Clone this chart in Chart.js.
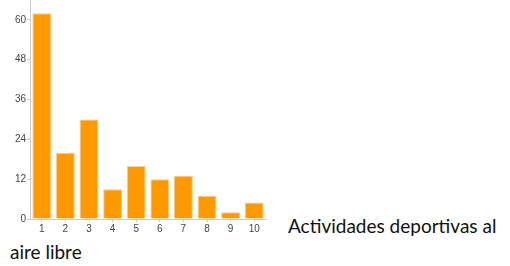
<!DOCTYPE html>
<html>
<head>
<meta charset="utf-8">
<script src="https://cdn.jsdelivr.net/npm/chart.js@4"></script>
<style>
  html, body { margin: 0; padding: 0; background: #fff; }
  body { width: 510px; height: 266px; position: relative; overflow: hidden; }
  #wrap { position: absolute; left: 0; top: 0; width: 270px; height: 234px; }
  .txt { position: absolute; font-family: Lato, "Open Sans", sans-serif; font-size: 19px; color: #111; white-space: nowrap; }
</style>
</head>
<body>
<div id="wrap"><canvas id="canvas"></canvas></div>
<div class="txt" style="left:288px; top:214px;">Actividades deportivas al</div>
<div class="txt" style="left:10px; top:240px;">aire libre</div>
<script>
var labels = ["1", "2", "3", "4", "5", "6", "7", "8", "9", "10"];
var counts = [62, 20, 30, 9, 16, 12, 13, 7, 2, 5];
var yTicks = [0, 12, 24, 36, 48, 60];

var tickFont = { family: "'Liberation Sans', Arial, sans-serif", size: 10 };

var config = {
  type: "bar",
  data: {
    labels: labels,
    datasets: [
      {
        data: counts,
        backgroundColor: "#ff9900",
        borderColor: "#ffcc88",
        borderWidth: 1,
        barPercentage: 0.8,
        categoryPercentage: 1
      }
    ]
  },
  options: {
    responsive: true,
    maintainAspectRatio: false,
    animation: false,
    layout: { padding: { left: 0, right: 4, top: 0, bottom: 0 } },
    plugins: {
      legend: { display: false },
      tooltip: { enabled: false }
    },
    scales: {
      x: {
        grid: { offset: false, drawOnChartArea: false, color: "#cccccc", tickLength: 3 },
        border: { color: "#cccccc" },
        ticks: { color: "#444", font: tickFont, padding: 1, maxRotation: 0 },
        afterFit: function(scale) {
          scale.height = 15;
          scale.paddingLeft = 0;
          scale.paddingRight = 0;
        }
      },
      y: {
        min: 0,
        max: 66,
        grid: { drawOnChartArea: false, color: "#cccccc", tickLength: 3 },
        border: { color: "#cccccc" },
        ticks: { color: "#444", font: tickFont, padding: 1 },
        afterBuildTicks: function(scale) {
          scale.ticks = yTicks.map(function(v) { return { value: v }; });
        },
        afterFit: function(scale) {
          scale.width = 30;
          scale.paddingTop = 0;
          scale.paddingBottom = 0;
        }
      }
    }
  }
};

window.onload = function() {
  var ctx = document.getElementById("canvas").getContext("2d");
  window.myBar = new Chart(ctx, config);
};
</script>
</body>
</html>
